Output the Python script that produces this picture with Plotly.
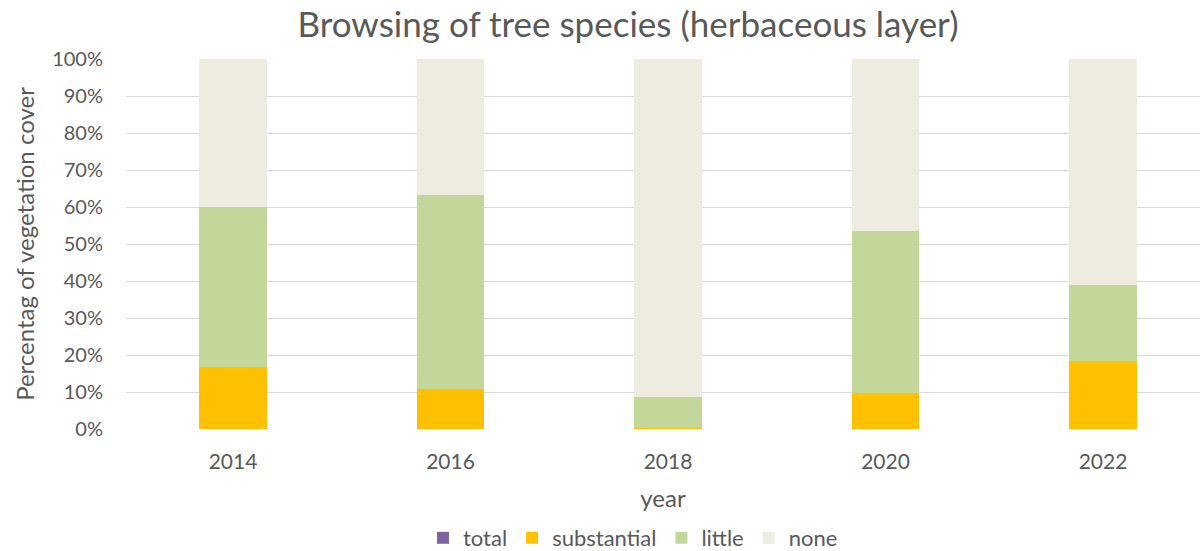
import plotly.graph_objects as go

years = ["2014", "2016", "2018", "2020", "2022"]
total = [0.0, 0.0, 0.0, 0.0, 0.0]
substantial = [0.168, 0.108, 0.004, 0.097, 0.184]
little = [0.432, 0.524, 0.082, 0.438, 0.205]
none_ = [0.400, 0.368, 0.914, 0.465, 0.611]

series = [
    ("total", total, "#8064A2"),
    ("substantial", substantial, "#FFC000"),
    ("little", little, "#C4D79B"),
    ("none", none_, "#EEECE1"),
]

fig = go.Figure()
for name, vals, color in series:
    fig.add_trace(go.Bar(
        x=years, y=vals, name=name, width=0.31,
        marker=dict(color=color, line=dict(width=0)),
    ))

font_family = "Lato, 'Open Sans', sans-serif"
fig.update_layout(
    barmode="stack",
    width=1200, height=551,
    margin=dict(l=126, r=0, t=59, b=122, autoexpand=False),
    paper_bgcolor="white", plot_bgcolor="white",
    font=dict(family=font_family, color="#595959", size=20),
    title=dict(text="Browsing of tree species (herbaceous layer)",
               x=628 / 1200, xanchor="center", y=1 - 25 / 551, yanchor="middle",
               yref="container", font=dict(size=35, color="#595959")),
    legend=dict(orientation="h", xref="container", x=633 / 1200, xanchor="center",
                y=-0.2946, yanchor="middle",
                font=dict(size=22, color="#595959"), traceorder="normal",
                itemwidth=30),
    showlegend=True,
    xaxis=dict(type="category", range=[-0.492, 4.446], showgrid=False,
               showline=False, ticks="", ticklabelstandoff=18,
               tickfont=dict(size=21), automargin=False,
               title=dict(text="year", font=dict(size=24), standoff=18)),
    yaxis=dict(range=[0, 1], tickformat=".0%", dtick=0.1, showgrid=True,
               gridcolor="#D9D9D9", gridwidth=1.3, zeroline=False, showline=False,
               ticks="", ticklabelstandoff=22, tickfont=dict(size=20), automargin=False,
               title=dict(text="Percentag of vegetation cover", font=dict(size=24), standoff=10)),
)

fig.write_html("out.html", config={"displayModeBar": False},
               post_script="document.body.style.margin='0';document.body.style.overflow='hidden';")
